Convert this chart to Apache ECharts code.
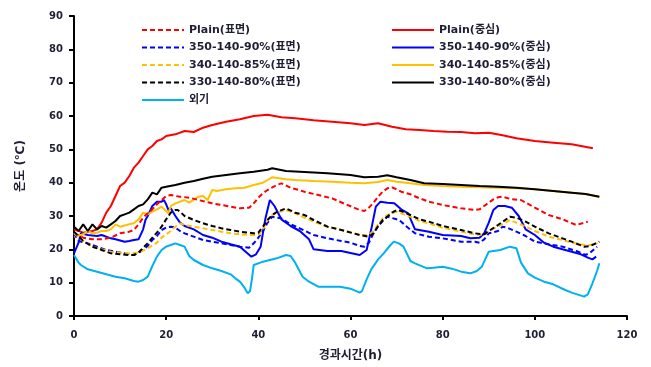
<!DOCTYPE html>
<html>
<head>
<meta charset="utf-8">
<script src="https://cdn.jsdelivr.net/npm/echarts@6/dist/echarts.min.js"></script>
<style>
  html, body { margin: 0; padding: 0; background: #fff; }
  #chart { width: 651px; height: 367px; }
</style>
</head>
<body>
<div id="chart"></div>
<script>
// hours and temperatures, one pair of arrays per series
var plainCoreT = [0,2,4,5,6,7,8,9,10,11,12,13,14,15,16,17,18,19,20,22,24,26,28,30,33,36,39,42,45,48,52,56,60,63,66,69,72,75,78,81,84,87,90,93,96,100,104,108,112.6];
var plainCoreV = [26,25,25.5,26,28,31,33,36,39,40,42,44.5,46,48,50,51,52.5,53,54,54.5,55.5,55.2,56.5,57.3,58.3,59,60,60.4,59.6,59.3,58.7,58.3,57.8,57.3,57.8,56.8,56,55.8,55.5,55.3,55.2,54.8,55,54.2,53.3,52.5,52,51.5,50.3];

var plainSurfT = [0,2,4,6,8,10,12,13,14,15,16,17,18,19,20,21,22,23,25,27,30,32,34,36,38,39,40,41,42,44,45,47,50,53,56,59,62,63,64,65,66,67,68,69,70,71,73,75,77,80,84,87,88,89,90,91,92,93,95,97,100,103,106,109,111.5];
var plainSurfV = [24.8,23.5,23,23,23.5,24.8,25.3,25.8,27.5,29.5,30.8,32,33.5,34.8,36,36.3,36,35.8,35.5,34.8,33.8,33.3,32.8,32.3,32.5,33.8,35.5,36.8,37.8,39.3,39.8,38.5,37.3,36.3,35.3,33.5,31.8,31.5,32.5,34,35.8,37.3,38.3,38.6,38,37.3,36.5,35.3,34.3,33.3,32.3,31.8,32,33,34,35,35.6,35.8,35,34.8,32.5,30.3,29,27.3,28.3];

var c350CoreT = [0,1,1.5,3,5,6,8,9,11,12,13,14,15,15.5,16,17,18,19,19.5,20,20.5,21,22,23,24,26,28,30,32,34,36,37.5,38.5,39.5,40.5,41.5,42.5,43.5,45,47,49,51,52,55,58,62,63.5,64.5,65.5,66.5,68,69.5,71,72.5,74,77,80,84,86,88,89,90,91,92,93.5,95,96.5,98,100,102,104,106,108,110,111.5,112.5,113.3];
var c350CoreV = [18.8,22,24.8,24.3,24,24.3,23.3,23,22.3,22.5,22.8,23,26,28.8,30,33,34.3,34.3,34.8,33.5,31.8,32.3,30,28,27,26,24.3,23.5,22.3,21.5,20.8,19,17.8,18.5,20.8,29,34.8,33,29,27,25.5,23,20,19.5,19.5,18.3,19.8,26,32.8,34.3,34,33.8,32,30.8,26,25.3,24.3,24,23.3,23.5,24.8,28,31.8,33,33,32.5,30,26,24.3,22,20.8,20,19.3,18.5,17.5,17,17.8,21,25.8];

var c350SurfT = [0,1,3,5,7,9,11,13,14,15,16,17,18,19,20,21,22,23,24,26,28,30,32,34,36,38,39,40,41,42,43,44,45,47,49,52,55,58,60,62,63,64,65,66,67,68,70,71,72,74,77,80,84,87,88,89,90,92,93,94,96,98,100,103,106,109,111,112,113.5];
var c350SurfV = [24.8,22.5,21.8,20.8,19.8,19.3,18.8,18.3,19,19.8,21,22.8,24,25.8,26.5,26.8,26.5,25.5,24.8,23.8,22.8,22.3,21.8,21.3,20.8,20.5,21.8,23.5,25.5,28,29.8,29.5,29.3,27.5,26.3,24.3,23.3,22.5,22,21,20.8,22,24.8,27,28.5,29.8,29,28.3,27,24.8,23.8,23.3,22.3,22.3,22,23,24.8,25.5,26.8,26.5,25.3,24,22.3,21.5,20.8,19.5,18.3,19,20.8];

var c340CoreT = [0,2,3,4,5,6,7,8,9,10,12,13,14,15,16,17,18,19,20,20.5,21,22,24,25,27,28,29,30,31,33,35,37,39,41,42,43,46,48,52,56,60,63,66,68,70,73,76,80,84,88,92,96,100,104,108,111,114];
var c340CoreV = [23.8,24.5,25.5,24.8,25,25.5,25.5,26,27.5,26.8,27.5,27.8,29,31,30.5,31.3,32,32.8,31.5,30.8,33,33.8,34.8,34,35.8,36,34.8,37.8,37.5,38,38.3,38.5,39.3,40,40.8,41.6,41,40.8,40.5,40.3,40,39.8,40.2,40.8,40.3,39.8,39.3,39,38.8,38.6,38.5,38.3,38,37.5,37,36.6,35.8];

var c340SurfT = [0,2,4,6,8,10,12,14,16,18,19,20,21,22,23,24,26,28,30,32,34,36,38,40,41,42,43,44,46,48,50,52,55,58,62,64,65,66,67,68,70,71,73,75,77,80,84,87,89,90,92,94.6,96,98,100,103,106,108,110.7,112,113.6];
var c340SurfV = [24.8,22.5,20.8,20,19.3,19,18.8,19,20.3,22,23.5,24.5,25.5,26.8,27.8,27.3,26.8,26.3,25.8,25.3,24.8,24.5,24.3,24.3,26,28.8,30.3,31,31.8,30.8,29.5,28.3,26.8,25.8,24.3,24.3,25.5,27.5,29.3,30.3,31.3,30.8,29.8,28.5,27.8,26.5,25.3,24.5,24.3,25.5,26.8,28.8,28,26.8,25.5,23.8,22.8,22,21.3,21.3,21.8];

var c330CoreT = [0,1,2,3,4,5,6,7,8,9,10,11,12,13,14,15,16,17,18,19,20,22,24,26,28,30,33,36,39,42,43,46,50,55,60,63,66,68,70,73,76,80,84,88,92,96,100,104,108,111,114];
var c330CoreV = [26.8,25.5,27.5,25.5,27.5,26,27,26.5,27.5,28.5,30,30.5,31,32,33,33.5,35,37,36.5,38.5,38.8,39.3,40,40.5,41.2,41.8,42.3,42.8,43.3,43.9,44.3,43.5,43.2,42.8,42.3,41.6,41.8,42.2,41.6,40.8,39.8,39.6,39.3,39,38.8,38.5,38,37.5,37,36.6,35.8];

var c330SurfT = [0,2,4,6,8,10,12,13,14,15,16,17,18,19,20,21,22,22.5,23,24,26,28,30,32,34,36,38,39,40,41,42,43,44,46,48,50,52,55,58,62,64,65,66,67,68,69,70,71,73,75,77,80,84,87,89,90,92,94.6,96,98,100,103,106,108,110.7,112,114];
var c330SurfV = [25.3,22.5,20.8,19.8,18.8,18.5,18.3,18.3,19,20.5,21.8,23.5,25,26.8,29,31,31.8,31.8,31.3,30,28.8,27.8,27,26.3,25.8,25.3,25,24.8,25,26.8,28.8,30.3,31.2,32.3,31,30.3,28.8,26.8,25.8,24.3,23.8,24.8,27,28.8,29.8,31,31.8,31.5,30.3,29,28.3,27,25.8,24.8,24.5,25.5,27.3,29.8,29.5,28.3,26.8,24.8,23.3,22.3,20.8,21,22.3];

var outdoorT = [0,1,1.5,3,5,7,9,11,13,14,15,16,17,18,19,20,21,22,23,24,25,26,28,30,32,34,35,36,37,37.7,38.2,38.6,39,40,41,42.5,44,46,47,48,49.6,51,53,55,57.7,60,62,62.5,63.5,64.5,66,67.2,68.5,69.4,70.5,71.5,73,74,76.6,78,80,82,84,86,87.4,88.5,90,91,92.5,94.6,96,97,98.5,100,102,104,106.6,108,110.7,111.5,112.5,113.5,114];
var outdoorV = [18.3,16,15.3,14,13.3,12.5,11.8,11.3,10.5,10.3,10.8,11.8,15,17.8,19.8,20.8,21.3,21.8,21.3,20.8,18,16.8,15.3,14.3,13.5,12.5,11.3,10.3,8.5,6.8,7.5,11,15.3,15.8,16.3,16.8,17.3,18.3,18,16,11.8,10.3,8.8,8.8,8.8,8.2,7,7.5,11,14,17,18.8,21,22.3,21.8,20.8,16.5,15.8,14.3,14.5,14.8,14.2,13.3,12.8,13.5,14.8,19.3,19.5,19.8,20.8,20.3,16,12.8,11.5,10.3,9.5,7.8,7,5.8,6.5,9.8,13.5,15.8];

var xTicks = [0, 20, 40, 60, 80, 100, 120];
var yTicks = [0, 10, 20, 30, 40, 50, 60, 70, 80, 90];

var chartDom = document.getElementById('chart');
var myChart = echarts.init(chartDom);

var FONT = "'DejaVu Sans', 'Noto Sans CJK KR', sans-serif";
var TXT = '#1f1f33';

function pairs(t, v) {
    return t.map(function (h, i) { return [h, v[i]]; });
}

function line(name, t, v, color, dashed) {
    return {
        name: name,
        type: 'line',
        data: pairs(t, v),
        symbol: 'none',
        showSymbol: false,
        z: dashed ? 3 : 2,
        lineStyle: { color: color, width: 2, type: dashed ? [5, 3] : 'solid' },
        itemStyle: { color: color }
    };
}

var legendText = { fontFamily: FONT, fontWeight: 'bold', fontSize: 11, color: TXT, lineHeight: 14 };

function legendCol(left, names) {
    return {
        orient: 'vertical',
        left: left,
        top: 18,
        itemWidth: 42,
        itemHeight: 10,
        itemGap: 3.5,
        textStyle: legendText,
        itemStyle: { opacity: 0 },
        data: names
    };
}

var option = {
    animation: false,
    backgroundColor: '#fff',
    grid: { left: 74, right: 24, top: 16, bottom: 51 },
    legend: [
        legendCol(136, ['Plain(표면)', '350-140-90%(표면)', '340-140-85%(표면)', '330-140-80%(표면)', '외기']),
        legendCol(386, ['Plain(중심)', '350-140-90%(중심)', '340-140-85%(중심)', '330-140-80%(중심)'])
    ],
    xAxis: {
        type: 'value',
        min: xTicks[0],
        max: xTicks[xTicks.length - 1],
        interval: 20,
        name: '경과시간(h)',
        nameLocation: 'middle',
        nameGap: 34,
        nameTextStyle: { fontFamily: FONT, fontWeight: 'bold', fontSize: 12, color: TXT },
        axisLine: { lineStyle: { color: '#000', width: 2 } },
        axisTick: { show: true, length: 4, lineStyle: { color: '#000', width: 2 } },
        axisLabel: { margin: 14, fontFamily: FONT, fontWeight: 'bold', fontSize: 10, color: TXT },
        splitLine: { show: false }
    },
    yAxis: {
        type: 'value',
        min: yTicks[0],
        max: yTicks[yTicks.length - 1],
        interval: 10,
        name: '온도 (℃)',
        nameLocation: 'middle',
        nameRotate: 90,
        nameGap: 47,
        nameTextStyle: { fontFamily: FONT, fontWeight: 'bold', fontSize: 12, color: TXT },
        axisLine: { show: true, lineStyle: { color: '#000', width: 2 } },
        axisTick: { show: true, length: 5, lineStyle: { color: '#000', width: 2 } },
        axisLabel: { margin: 11, fontFamily: FONT, fontWeight: 'bold', fontSize: 10, color: TXT },
        splitLine: { show: false }
    },
    series: [
        line('Plain(표면)', plainSurfT, plainSurfV, '#ff0000', true),
        line('Plain(중심)', plainCoreT, plainCoreV, '#ff0000', false),
        line('350-140-90%(표면)', c350SurfT, c350SurfV, '#0000ff', true),
        line('350-140-90%(중심)', c350CoreT, c350CoreV, '#0000ff', false),
        line('340-140-85%(표면)', c340SurfT, c340SurfV, '#ffc000', true),
        line('340-140-85%(중심)', c340CoreT, c340CoreV, '#ffc000', false),
        line('330-140-80%(표면)', c330SurfT, c330SurfV, '#000000', true),
        line('330-140-80%(중심)', c330CoreT, c330CoreV, '#000000', false),
        line('외기', outdoorT, outdoorV, '#00b0f0', false)
    ]
};

myChart.setOption(option);
</script>
</body>
</html>
